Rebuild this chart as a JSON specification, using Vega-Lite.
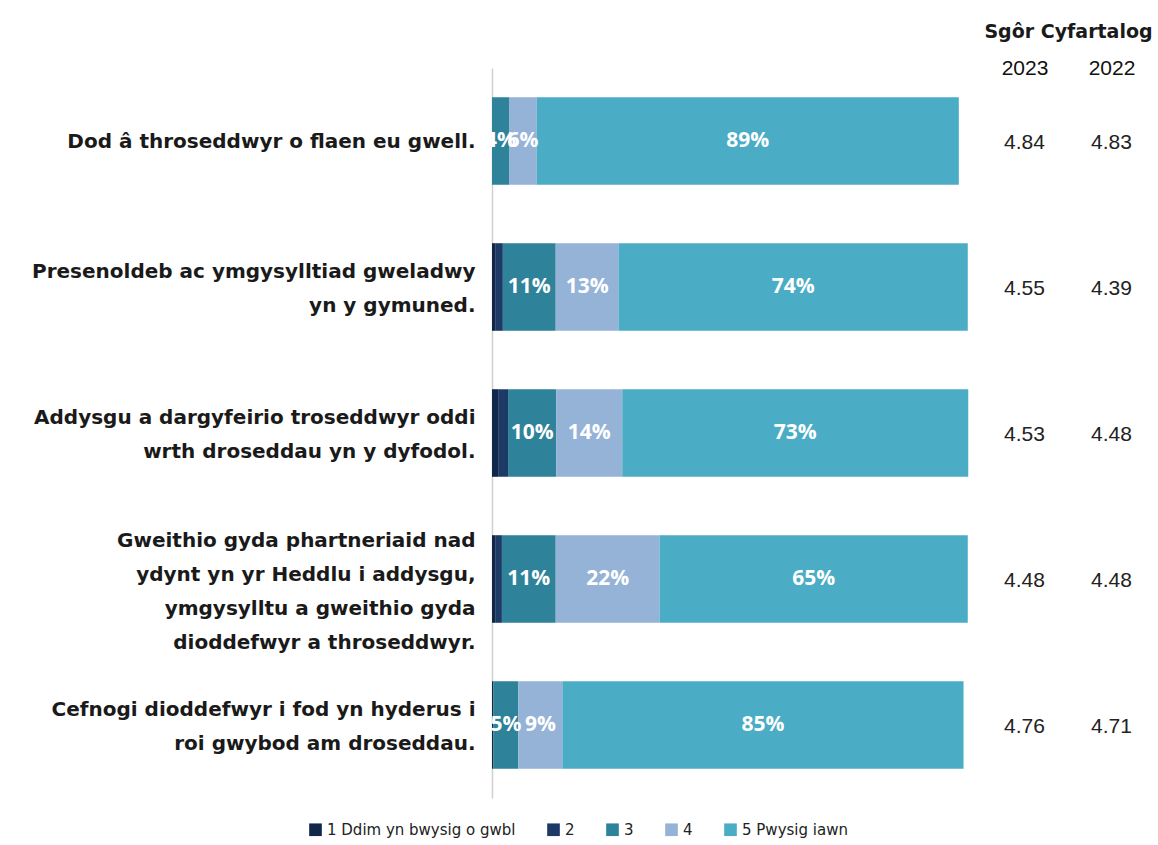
{
  "$schema": "https://vega.github.io/schema/vega-lite/v6.json",
  "background": "white",
  "padding": {"left": 0, "right": 0, "top": 22, "bottom": 2},
  "config": {
    "view": {"stroke": null},
    "font": "DejaVu Sans",
    "legend": {"layout": {"bottom": {"anchor": "middle"}}}
  },
  "datasets": {
    "bars": [
      {"item": "Dod â throseddwyr o flaen eu gwell.", "ord": 1, "level": 1, "resp": "1 Ddim yn bwysig o gwbl", "pct": 0},
      {"item": "Dod â throseddwyr o flaen eu gwell.", "ord": 1, "level": 2, "resp": "2", "pct": 0},
      {"item": "Dod â throseddwyr o flaen eu gwell.", "ord": 1, "level": 3, "resp": "3", "pct": 0.036},
      {"item": "Dod â throseddwyr o flaen eu gwell.", "ord": 1, "level": 4, "resp": "4", "pct": 0.059},
      {"item": "Dod â throseddwyr o flaen eu gwell.", "ord": 1, "level": 5, "resp": "5 Pwysig iawn", "pct": 0.894},
      {"item": "Presenoldeb ac ymgysylltiad gweladwy|yn y gymuned.", "ord": 2, "level": 1, "resp": "1 Ddim yn bwysig o gwbl", "pct": 0.008},
      {"item": "Presenoldeb ac ymgysylltiad gweladwy|yn y gymuned.", "ord": 2, "level": 2, "resp": "2", "pct": 0.015},
      {"item": "Presenoldeb ac ymgysylltiad gweladwy|yn y gymuned.", "ord": 2, "level": 3, "resp": "3", "pct": 0.112},
      {"item": "Presenoldeb ac ymgysylltiad gweladwy|yn y gymuned.", "ord": 2, "level": 4, "resp": "4", "pct": 0.133},
      {"item": "Presenoldeb ac ymgysylltiad gweladwy|yn y gymuned.", "ord": 2, "level": 5, "resp": "5 Pwysig iawn", "pct": 0.74},
      {"item": "Addysgu a dargyfeirio troseddwyr oddi|wrth droseddau yn y dyfodol.", "ord": 3, "level": 1, "resp": "1 Ddim yn bwysig o gwbl", "pct": 0.013},
      {"item": "Addysgu a dargyfeirio troseddwyr oddi|wrth droseddau yn y dyfodol.", "ord": 3, "level": 2, "resp": "2", "pct": 0.021},
      {"item": "Addysgu a dargyfeirio troseddwyr oddi|wrth droseddau yn y dyfodol.", "ord": 3, "level": 3, "resp": "3", "pct": 0.102},
      {"item": "Addysgu a dargyfeirio troseddwyr oddi|wrth droseddau yn y dyfodol.", "ord": 3, "level": 4, "resp": "4", "pct": 0.14},
      {"item": "Addysgu a dargyfeirio troseddwyr oddi|wrth droseddau yn y dyfodol.", "ord": 3, "level": 5, "resp": "5 Pwysig iawn", "pct": 0.733},
      {"item": "Gweithio gyda phartneriaid nad|ydynt yn yr Heddlu i addysgu,|ymgysylltu a gweithio gyda|dioddefwyr a throseddwyr.", "ord": 4, "level": 1, "resp": "1 Ddim yn bwysig o gwbl", "pct": 0.008},
      {"item": "Gweithio gyda phartneriaid nad|ydynt yn yr Heddlu i addysgu,|ymgysylltu a gweithio gyda|dioddefwyr a throseddwyr.", "ord": 4, "level": 2, "resp": "2", "pct": 0.013},
      {"item": "Gweithio gyda phartneriaid nad|ydynt yn yr Heddlu i addysgu,|ymgysylltu a gweithio gyda|dioddefwyr a throseddwyr.", "ord": 4, "level": 3, "resp": "3", "pct": 0.114},
      {"item": "Gweithio gyda phartneriaid nad|ydynt yn yr Heddlu i addysgu,|ymgysylltu a gweithio gyda|dioddefwyr a throseddwyr.", "ord": 4, "level": 4, "resp": "4", "pct": 0.22},
      {"item": "Gweithio gyda phartneriaid nad|ydynt yn yr Heddlu i addysgu,|ymgysylltu a gweithio gyda|dioddefwyr a throseddwyr.", "ord": 4, "level": 5, "resp": "5 Pwysig iawn", "pct": 0.653},
      {"item": "Cefnogi dioddefwyr i fod yn hyderus i|roi gwybod am droseddau.", "ord": 5, "level": 1, "resp": "1 Ddim yn bwysig o gwbl", "pct": 0.003},
      {"item": "Cefnogi dioddefwyr i fod yn hyderus i|roi gwybod am droseddau.", "ord": 5, "level": 2, "resp": "2", "pct": 0},
      {"item": "Cefnogi dioddefwyr i fod yn hyderus i|roi gwybod am droseddau.", "ord": 5, "level": 3, "resp": "3", "pct": 0.053},
      {"item": "Cefnogi dioddefwyr i fod yn hyderus i|roi gwybod am droseddau.", "ord": 5, "level": 4, "resp": "4", "pct": 0.093},
      {"item": "Cefnogi dioddefwyr i fod yn hyderus i|roi gwybod am droseddau.", "ord": 5, "level": 5, "resp": "5 Pwysig iawn", "pct": 0.85}
    ],
    "scores": [
      {"ord": 1, "year": "2023", "score": 4.84},
      {"ord": 1, "year": "2022", "score": 4.83},
      {"ord": 2, "year": "2023", "score": 4.55},
      {"ord": 2, "year": "2022", "score": 4.39},
      {"ord": 3, "year": "2023", "score": 4.53},
      {"ord": 3, "year": "2022", "score": 4.48},
      {"ord": 4, "year": "2023", "score": 4.48},
      {"ord": 4, "year": "2022", "score": 4.48},
      {"ord": 5, "year": "2023", "score": 4.76},
      {"ord": 5, "year": "2022", "score": 4.71}
    ]
  },
  "spacing": 12,
  "hconcat": [
    {
      "width": 472,
      "height": 730,
      "data": {"name": "bars"},
      "encoding": {
        "y": {
          "field": "item",
          "type": "nominal",
          "sort": {"field": "ord", "op": "min"},
          "scale": {"paddingInner": 0.4, "paddingOuter": 0.2},
          "axis": {
            "title": null,
            "ticks": false,
            "domain": true,
            "domainColor": "#d0d0d0",
            "domainWidth": 1.5,
            "labelExpr": "split(datum.value, '|')",
            "labelFont": "DejaVu Sans",
            "labelFontSize": 20,
            "labelFontWeight": "bold",
            "labelColor": "#1a1a1a",
            "labelPadding": 17,
            "labelLimit": 800,
            "labelLineHeight": 34,
            "labelOffset": {
              "condition": [
                {"test": "length(split(datum.value, '|')) == 4", "value": -38},
                {"test": "length(split(datum.value, '|')) == 2", "value": -15}
              ],
              "value": 1
            },
            "minExtent": 492
          }
        },
        "x": {
          "field": "pct",
          "type": "quantitative",
          "stack": "zero",
          "scale": {"domain": [0, 1], "nice": false},
          "axis": null
        },
        "order": {"field": "level", "type": "quantitative"}
      },
      "layer": [
        {
          "mark": {"type": "bar"},
          "encoding": {
            "color": {
              "field": "resp",
              "type": "nominal",
              "scale": {
                "domain": ["1 Ddim yn bwysig o gwbl", "2", "3", "4", "5 Pwysig iawn"],
                "range": ["#11274a", "#1d3a66", "#2e8299", "#95b3d7", "#4bacc6"]
              },
              "legend": {
                "orient": "bottom",
                "direction": "horizontal",
                "title": null,
                "symbolType": "square",
                "symbolSize": 160,
                "symbolStrokeWidth": 0,
                "symbolOpacity": 1,
                "labelFont": "DejaVu Sans",
                "labelFontSize": 15,
                "labelColor": "#222222",
                "labelLimit": 400,
                "columnPadding": 30,
                "labelOffset": 4,
                "offset": 24
              }
            }
          }
        },
        {
          "mark": {"type": "text", "font": "Open Sans", "fontWeight": "bold", "fontSize": 21, "color": "white", "align": "center", "baseline": "middle"},
          "encoding": {
            "x": {"field": "pct", "type": "quantitative", "stack": "zero", "bandPosition": 0.5},
            "text": {
              "condition": {"test": "datum.level >= 3", "field": "pct", "type": "quantitative", "format": ".0%"},
              "value": ""
            }
          }
        }
      ]
    },
    {
      "width": 174,
      "height": 730,
      "data": {"name": "scores"},
      "mark": {"type": "text", "font": "Liberation Sans", "fontSize": 21, "color": "#222222", "align": "center", "baseline": "middle", "dy": 2},
      "encoding": {
        "y": {
          "field": "ord",
          "type": "ordinal",
          "scale": {"paddingInner": 0.4, "paddingOuter": 0.2},
          "axis": null
        },
        "x": {
          "field": "year",
          "type": "nominal",
          "sort": ["2023", "2022"],
          "axis": {
            "orient": "top",
            "title": "Sgôr Cyfartalog",
            "titleFont": "DejaVu Sans",
            "titleFontSize": 19,
            "titleFontWeight": "bold",
            "titleColor": "#1a1a1a",
            "titlePadding": 16,
            "labelAngle": 0,
            "labelFont": "Liberation Sans",
            "labelFontSize": 21,
            "labelColor": "#111111",
            "labelPadding": -10,
            "domain": false,
            "ticks": false
          }
        },
        "text": {"field": "score", "type": "quantitative", "format": ".2f"}
      }
    }
  ]
}
